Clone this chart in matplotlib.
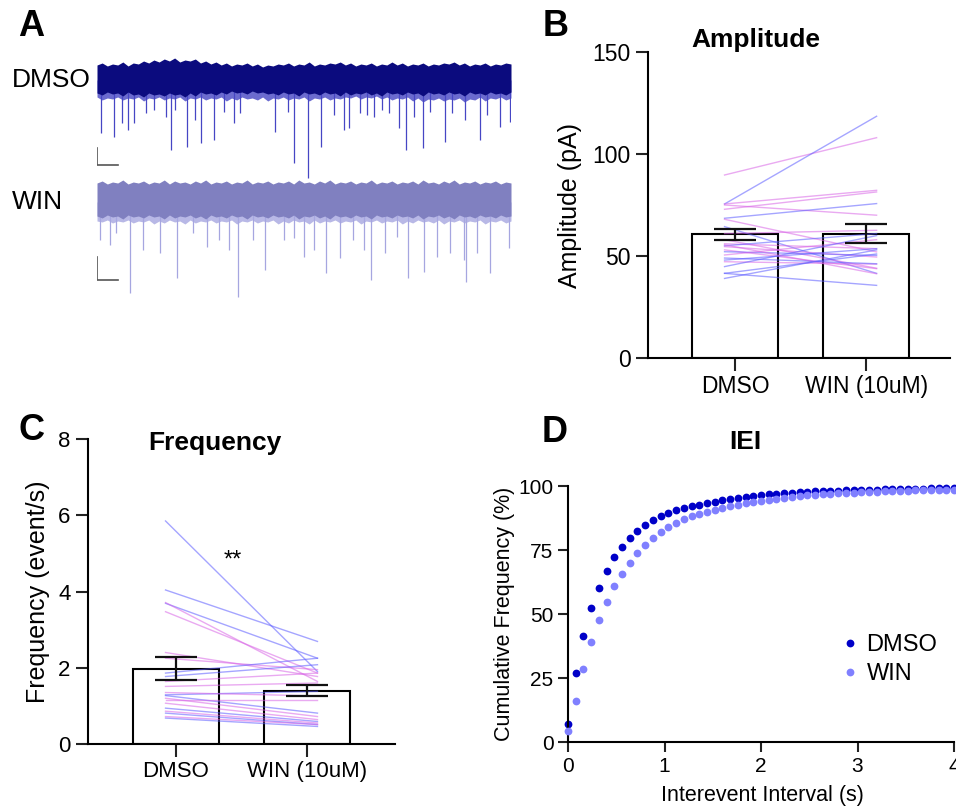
import matplotlib.pyplot as plt
import numpy as np

plt.rcParams['font.family'] = ['Liberation Sans', 'DejaVu Sans']

W, H = 956, 808

# ---- panel A: example traces (envelope of the noise band + large events) ----
dmso_upper = [15, 17, 14, 16, 15, 18, 14, 17, 16, 19, 17, 20, 18, 21, 19, 22, 18, 20, 19, 21,
              17, 19, 16, 18, 15, 17, 14, 16, 15, 17, 14, 16, 13, 15, 14, 16, 15, 17, 14, 16,
              15, 18, 14, 16, 15, 17, 16, 18, 15, 17, 14, 16, 15, 17, 14, 16, 15, 18, 15, 17,
              14, 16, 15, 17, 14, 16, 15, 17, 16, 18, 15, 17, 14, 16, 15, 17, 14, 16, 15, 17, 16]
dmso_lower = [13, 15, 12, 14, 13, 16, 12, 15, 14, 17, 13, 15, 14, 16, 13, 15, 14, 17, 13, 16,
              12, 14, 13, 15, 12, 14, 11, 13, 12, 14, 11, 13, 12, 14, 13, 15, 12, 14, 13, 16,
              12, 14, 13, 15, 12, 14, 13, 16, 12, 15, 13, 14, 12, 15, 13, 16, 12, 14, 13, 15,
              12, 14, 13, 16, 12, 14, 13, 15, 12, 14, 13, 16, 12, 14, 13, 15, 12, 14, 13, 15, 12]
win_upper = [19, 21, 18, 20, 19, 22, 18, 20, 19, 21, 18, 20, 19, 22, 18, 21, 19, 20, 18, 21,
             19, 22, 18, 20, 19, 21, 18, 20, 19, 22, 18, 20, 19, 21, 18, 20, 19, 21, 18, 22,
             19, 20, 18, 21, 19, 22, 18, 20, 19, 21, 18, 20, 19, 22, 18, 20, 19, 21, 18, 20,
             19, 21, 18, 22, 19, 20, 18, 21, 19, 22, 18, 20, 19, 21, 18, 20, 19, 21, 18, 20, 19]
win_lower = [14, 16, 13, 15, 14, 17, 13, 15, 14, 16, 13, 15, 14, 17, 13, 16, 14, 15, 13, 16,
             14, 17, 13, 15, 14, 16, 13, 15, 14, 17, 13, 15, 14, 16, 13, 15, 14, 16, 13, 17,
             14, 15, 13, 16, 14, 17, 13, 15, 14, 16, 13, 15, 14, 17, 13, 15, 14, 16, 13, 15,
             14, 16, 13, 17, 14, 15, 13, 16, 14, 17, 13, 15, 14, 16, 13, 15, 14, 16, 13, 15, 14]

dmso_event_t = [1.0, 4.0, 6.0, 7.6, 8.9, 11.8, 13.8, 16.7, 17.9, 18.9, 21.7, 23.6, 25.2, 28.2,
                30.6, 33.0, 34.6, 43.1, 46.1, 47.5, 50.9, 54.2, 57.2, 59.6, 60.8, 63.6, 65.2,
                66.8, 68.8, 70.5, 72.9, 74.7, 76.5, 78.7, 80.5, 84.1, 85.7, 89.0, 92.4, 94.2,
                97.4, 99.8]
dmso_event_amp = [53, 57, 43, 50, 43, 33, 30, 37, 70, 30, 67, 40, 63, 60, 32, 43, 33, 52, 32, 83,
                  98, 67, 35, 50, 48, 33, 35, 37, 30, 33, 48, 70, 37, 68, 32, 62, 33, 40, 60, 35,
                  47, 42]
win_event_t = [0.8, 3.2, 4.7, 7.9, 11.1, 15.1, 19.3, 23.2, 26.6, 29.4, 31.8, 34.1, 37.8, 40.5,
               45.1, 47.5, 49.9, 52.3, 55.2, 58.8, 61.8, 64.4, 66.3, 69.6, 72.5, 75.0, 79.1,
               82.1, 85.3, 88.6, 89.2, 91.8, 95.0, 99.4]
win_event_amp = [38, 43, 31, 91, 48, 51, 76, 31, 45, 38, 48, 95, 38, 68, 38, 36, 55, 48, 71, 56,
                 38, 48, 78, 51, 35, 76, 70, 55, 51, 58, 80, 51, 71, 46]

# ---- panels B, C: paired cells and bar summaries ----
groups = ['DMSO', 'WIN (10uM)']
amp_mean = [60.6, 60.9]
amp_err_lo = [2.6, 4.5]
amp_err_hi = [2.8, 5.0]
amp_pairs = [  # (DMSO, WIN, colour)
    (89.7, 108.0, 'p'), (75.5, 118.5, 'b'), (75.5, 82.2, 'p'), (72.9, 81.4, 'p'),
    (75.0, 70.0, 'p'), (68.5, 75.7, 'b'), (68.0, 52.0, 'p'), (64.4, 41.5, 'b'),
    (61.0, 62.6, 'p'), (58.0, 44.0, 'p'), (56.0, 53.6, 'p'), (55.0, 61.0, 'b'),
    (54.6, 49.5, 'p'), (53.0, 43.8, 'p'), (52.1, 50.3, 'b'), (50.5, 58.0, 'p'),
    (48.0, 53.6, 'b'), (47.2, 46.0, 'p'), (44.8, 60.0, 'b'), (41.5, 51.0, 'b'),
    (39.0, 53.0, 'b'), (41.5, 35.6, 'b'), (55.5, 41.3, 'p'), (49.0, 46.2, 'b'),
]

freq_mean = [1.98, 1.39]
freq_err_lo = [0.29, 0.14]
freq_err_hi = [0.31, 0.16]
freq_pairs = [
    (5.85, 1.90, 'b'), (4.04, 2.69, 'b'), (3.69, 2.25, 'b'), (3.71, 1.64, 'p'),
    (3.47, 1.86, 'p'), (2.40, 1.77, 'p'), (2.25, 1.95, 'p'), (1.86, 2.25, 'b'),
    (1.77, 2.08, 'b'), (1.64, 1.86, 'p'), (1.51, 1.60, 'p'), (1.29, 1.38, 'b'),
    (1.27, 0.81, 'b'), (1.16, 1.16, 'p'), (1.07, 0.64, 'p'), (0.94, 0.59, 'b'),
    (0.86, 0.55, 'p'), (0.81, 0.51, 'b'), (0.72, 0.51, 'p'), (0.68, 0.46, 'b'),
    (1.35, 1.26, 'p'), (1.20, 0.72, 'p'),
]

# ---- panel D: cumulative IEI distribution ----
iei_bins = np.round(np.arange(0, 4.001, 0.08), 2)
iei_dmso = [7.0, 26.8, 41.4, 52.2, 60.1, 66.9, 72.2, 76.1, 79.6, 82.5, 84.7, 86.8, 88.2,
            89.6, 90.5, 91.6, 92.0, 92.6, 93.2, 93.9, 94.4, 94.9, 95.3, 95.7, 96.1, 96.5,
            96.8, 97.0, 97.2, 97.4, 97.6, 97.8, 97.9, 98.0, 98.1, 98.2, 98.3, 98.4, 98.5,
            98.6, 98.6, 98.7, 98.8, 98.8, 98.9, 99.0, 99.0, 99.1, 99.1, 99.2, 99.2]
iei_win = [4.2, 16.2, 28.7, 39.0, 47.7, 54.5, 60.8, 65.6, 70.0, 73.9, 77.1, 79.7, 81.9,
           83.9, 85.5, 87.0, 88.2, 89.1, 90.0, 90.8, 91.6, 92.2, 92.7, 93.2, 93.8, 94.3,
           94.7, 95.1, 95.4, 95.7, 96.0, 96.3, 96.5, 96.7, 96.9, 97.1, 97.3, 97.4, 97.6,
           97.7, 97.8, 97.9, 98.0, 98.1, 98.2, 98.3, 98.4, 98.4, 98.5, 98.6, 98.6]

line_cols = {'b': '#5c5cff', 'p': '#d864e6'}


def px_axes(fig, x0, y0, x1, y1):
    return fig.add_axes([x0 / W, 1 - y1 / H, (x1 - x0) / W, (y1 - y0) / H])


def px_text(fig, x, y, s, **kw):
    fig.text(x / W, 1 - y / H, s, **kw)


def style_axes(ax, labelsize, ticklen):
    for side in ['top', 'right']:
        ax.spines[side].set_visible(False)
    for side in ['left', 'bottom']:
        ax.spines[side].set_linewidth(1.5)
    ax.tick_params(length=ticklen, width=1.5, labelsize=labelsize, color='#222222')


def paired_panel(ax, pairs, mean, err_lo, err_hi):
    ax.bar([0, 1], mean, width=0.66, color='white', edgecolor='black', linewidth=1.5, zorder=2)
    for a, b, c in pairs:
        ax.plot([-0.08, 1.08], [a, b], color=line_cols[c], lw=1.0, alpha=0.55, zorder=3)
    ax.errorbar([0, 1], mean, yerr=[err_lo, err_hi], fmt='none', ecolor='#111111',
                elinewidth=1.6, capsize=15, capthick=1.6, zorder=4)
    ax.set_xticks([0, 1])
    ax.set_xticklabels(groups)


def main():
    fig = plt.figure(figsize=(W / 100, H / 100), dpi=100)

    # A
    axA = px_axes(fig, 97, 55, 511, 300)
    axA.set_xlim(0, 100)
    axA.set_ylim(-245, 0)
    axA.axis('off')
    for base, up, lo, et, ea, band_col, ev_col in [
            (-25, dmso_upper, dmso_lower, dmso_event_t, dmso_event_amp, '#0b0b7e', '#4646c4'),
            (-147, win_upper, win_lower, win_event_t, win_event_amp, '#8080c0', '#a6a6e0')]:
        t = np.linspace(0, 100, len(up))
        up = np.array(up)
        lo = np.array(lo)
        axA.vlines(et, base - np.array(ea), base - 8, color=ev_col, lw=0.9, zorder=1)
        axA.fill_between(t, base - lo[::-1] - 5, base, color=ev_col, alpha=0.8, lw=0, zorder=1.5)
        axA.fill_between(t, base - lo, base + up, color=band_col, lw=0, zorder=2)
    # scale bars
    axA.plot([0, 0, 5.1], [-93, -110, -110], color='#555555', lw=1.2)
    axA.plot([0, 0, 5.1], [-202, -225, -225], color='#555555', lw=1.2)
    px_text(fig, 12, 80, 'DMSO', fontsize=19, va='center', ha='left')
    px_text(fig, 12, 202, 'WIN', fontsize=19, va='center', ha='left')

    # B
    axB = px_axes(fig, 648, 52, 950, 358)
    paired_panel(axB, amp_pairs, amp_mean, amp_err_lo, amp_err_hi)
    axB.set_xlim(-0.664, 1.64)
    axB.set_ylim(0, 150)
    axB.set_yticks([0, 50, 100, 150])
    style_axes(axB, 16.5, 9)
    axB.set_ylabel('Amplitude (pA)', fontsize=18)
    axB.yaxis.set_label_coords(-0.219, 0.5)
    px_text(fig, 756, 40, 'Amplitude', fontsize=19, fontweight='bold', ha='center', va='center')

    # C
    axC = px_axes(fig, 88, 439, 395, 744)
    paired_panel(axC, freq_pairs, freq_mean, freq_err_lo, freq_err_hi)
    axC.set_xlim(-0.672, 1.672)
    axC.set_ylim(0, 8)
    axC.set_yticks([0, 2, 4, 6, 8])
    style_axes(axC, 16, 9)
    axC.set_ylabel('Frequency (event/s)', fontsize=18)
    axC.yaxis.set_label_coords(-0.124, 0.5)
    axC.text(0.43, 4.8, '**', fontsize=17, ha='center', va='center')
    px_text(fig, 215, 443, 'Frequency', fontsize=19, fontweight='bold', ha='center', va='center')

    # D
    axD = px_axes(fig, 568, 486, 954, 742)
    axD.plot(iei_bins, iei_win, 'o', color='#8080ff', ms=5.6, mec='none', clip_on=False,
             label='WIN', zorder=3)
    axD.plot(iei_bins, iei_dmso, 'o', color='#0000c8', ms=5.6, mec='none', clip_on=False,
             label='DMSO', zorder=2)
    axD.set_xlim(0, 4)
    axD.set_ylim(0, 100)
    axD.set_xticks([0, 1, 2, 3, 4])
    axD.set_yticks([0, 25, 50, 75, 100])
    style_axes(axD, 15, 7)
    axD.set_ylabel('Cumulative Frequency (%)', fontsize=15.5)
    axD.yaxis.set_label_coords(-0.137, 0.5)
    axD.set_xlabel('Interevent Interval (s)', fontsize=15.5)
    axD.xaxis.set_label_coords(0.503, -0.168)
    h, l = axD.get_legend_handles_labels()
    axD.legend(h[::-1], l[::-1], loc='upper left', bbox_to_anchor=(843 / W, 1 - 634 / H),
               bbox_transform=fig.transFigure, frameon=False, fontsize=17,
               handlelength=0.6, handletextpad=0.4, borderpad=0, borderaxespad=0,
               labelspacing=0.3)
    px_text(fig, 745, 442, 'IEI', fontsize=19, fontweight='bold', ha='center', va='center')

    # panel letters
    for x, y, s in [(18, 26, 'A'), (543, 27, 'B'), (19, 431, 'C'), (542, 432, 'D')]:
        px_text(fig, x, y, s, fontsize=26, fontweight='bold', ha='left', va='center')

    fig.savefig('out.png', dpi=100)


if __name__ == '__main__':
    main()
